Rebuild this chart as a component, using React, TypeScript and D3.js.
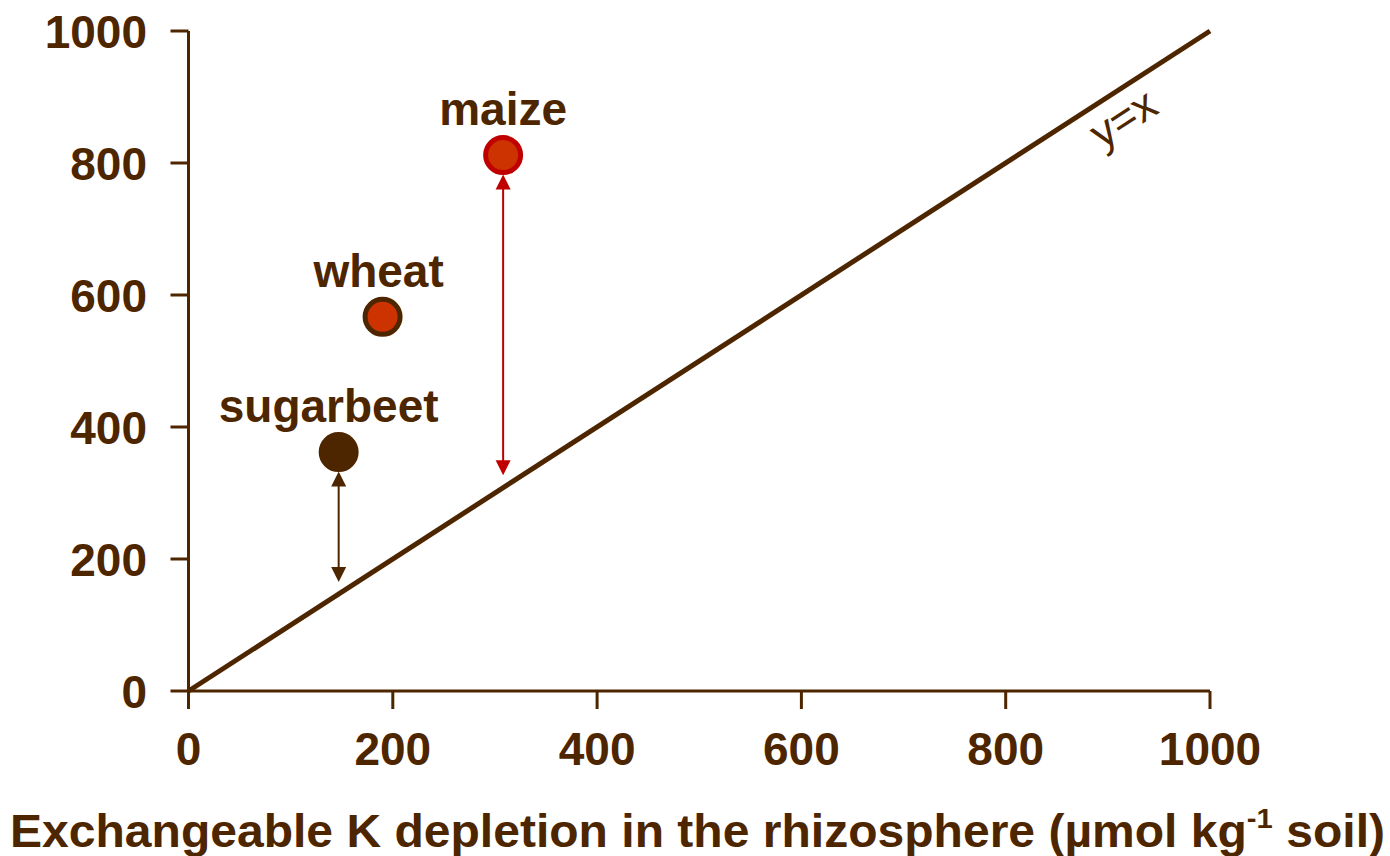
import React from "react";
import * as d3 from "d3";

const crops = ["sugarbeet", "wheat", "maize"];
const depletion = [147, 190, 308];
const release = [362, 567, 812];
const arrowEnds = [165, null, 327];
const fills = ["#4d2600", "#cc3300", "#cc3300"];
const strokes = ["#4d2600", "#4d2600", "#c00000"];
const arrowColors = ["#4d2600", null, "#c00000"];
const xTicks = [0, 200, 400, 600, 800, 1000];
const yTicks = [0, 200, 400, 600, 800, 1000];
const identityLine = [0, 1000];

const BROWN = "#4d2600";
const FONT = "'Liberation Sans', Arial, Helvetica, sans-serif";

export default function App() {
  const x = d3.scaleLinear().domain([0, 1000]).range([188.5, 1210]);
  const y = d3.scaleLinear().domain([0, 1000]).range([691, 31]);
  const r = 17.5;
  const line = d3
    .line<number>()
    .x((d) => x(d))
    .y((d) => y(d));

  return (
    <svg
      width={1390}
      height={856}
      style={{ position: "absolute", left: 0, top: 0, background: "#fff" }}
      fontFamily={FONT}
    >
      {/* y=x line */}
      <path d={line(identityLine) || ""} stroke={BROWN} strokeWidth={5} fill="none" />

      {/* axes */}
      <line x1={x(0)} x2={x(0)} y1={y(1000)} y2={y(0)} stroke={BROWN} strokeWidth={3} />
      <line x1={x(0)} x2={x(1000)} y1={y(0)} y2={y(0)} stroke={BROWN} strokeWidth={3} />
      {yTicks.map((t) => (
        <g key={"y" + t}>
          <line x1={x(0) - 18} x2={x(0)} y1={y(t)} y2={y(t)} stroke={BROWN} strokeWidth={3} />
          <text
            x={147}
            y={y(t)}
            dy="0.36em"
            textAnchor="end"
            fontSize={46}
            fontWeight="bold"
            fill={BROWN}
          >
            {t}
          </text>
        </g>
      ))}
      {xTicks.map((t) => (
        <g key={"x" + t}>
          <line x1={x(t)} x2={x(t)} y1={y(0)} y2={y(0) + 18} stroke={BROWN} strokeWidth={3} />
          <text
            x={x(t)}
            y={765}
            textAnchor="middle"
            fontSize={46}
            fontWeight="bold"
            fill={BROWN}
          >
            {t}
          </text>
        </g>
      ))}

      {/* arrows */}
      {crops.map((c, i) => {
        const end = arrowEnds[i];
        const col = arrowColors[i];
        if (end == null || col == null) return null;
        const cx = x(depletion[i]);
        const top = y(release[i]) + r + 2;
        const bot = y(end);
        const hl = 15;
        const hw = 7.5;
        return (
          <g key={"a" + c}>
            <line x1={cx} x2={cx} y1={top + hl - 2} y2={bot - hl + 2} stroke={col} strokeWidth={2} />
            <path d={`M${cx},${top} L${cx - hw},${top + hl} L${cx + hw},${top + hl} Z`} fill={col} />
            <path d={`M${cx},${bot} L${cx - hw},${bot - hl} L${cx + hw},${bot - hl} Z`} fill={col} />
          </g>
        );
      })}

      {/* points */}
      {crops.map((c, i) => (
        <circle
          key={"p" + c}
          cx={x(depletion[i])}
          cy={y(release[i])}
          r={r}
          fill={fills[i]}
          stroke={strokes[i]}
          strokeWidth={5}
        />
      ))}

      {/* labels */}
      {crops.map((c, i) => (
        <text
          key={"l" + c}
          x={x(depletion[i]) + (i === 0 ? -10 : i === 1 ? -4 : 0)}
          y={y(release[i]) - 30}
          textAnchor="middle"
          fontSize={46}
          fontWeight="bold"
          fill={BROWN}
        >
          {c}
        </text>
      ))}

      {/* y=x label */}
      <text
        transform={`translate(${x(915) + 8},${y(915) + 44}) rotate(-32.9)`}
        textAnchor="middle"
        fontSize={44}
        fill={BROWN}
      >
        y=x
      </text>

      {/* axis title */}
      <text
        x={10}
        y={847}
        fontSize={46}
        fontWeight="bold"
        fill={BROWN}
        textLength={1375}
        lengthAdjust="spacingAndGlyphs"
      >
        Exchangeable K depletion in the rhizosphere (µmol kg
        <tspan fontSize={28} dy={-19}>-1</tspan>
        <tspan dy={19}> soil)</tspan>
      </text>
    </svg>
  );
}
